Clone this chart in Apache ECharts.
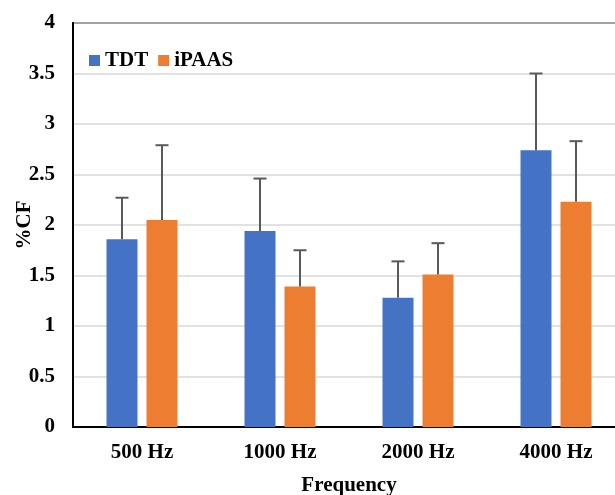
<!DOCTYPE html>
<html>
<head>
<meta charset="utf-8">
<script src="https://cdn.jsdelivr.net/npm/echarts@6/dist/echarts.min.js"></script>
<style>html,body{margin:0;padding:0;background:#fff;}#c{width:615px;height:495px;}</style>
</head>
<body>
<div id="c"></div>
<script>
var categories = ['500 Hz', '1000 Hz', '2000 Hz', '4000 Hz'];
var seriesNames = ['TDT', 'iPAAS'];
var tdtValues = [1.86, 1.94, 1.28, 2.74];
var tdtErrTop = [2.27, 2.46, 1.64, 3.50];
var ipaasValues = [2.05, 1.39, 1.51, 2.23];
var ipaasErrTop = [2.79, 1.75, 1.82, 2.83];
var yTicks = [0, 0.5, 1, 1.5, 2, 2.5, 3, 3.5, 4];

var FONT = '"Liberation Serif", "Times New Roman", serif';
var FS = 21;
var BAR_W = 31, GAP = 9;

function errSeries(values, tops, sign) {
  return {
    type: 'custom',
    z: 5,
    data: values.map(function (v, i) { return [i, v, tops[i]]; }),
    renderItem: function (params, api) {
      var lo = api.coord([api.value(0), api.value(1)]);
      var hi = api.coord([api.value(0), api.value(2)]);
      var x = lo[0] + sign * (BAR_W + GAP) / 2;
      var style = { stroke: '#595959', lineWidth: 2 };
      return {
        type: 'group',
        children: [
          { type: 'line', shape: { x1: x, y1: lo[1], x2: x, y2: hi[1] }, style: style },
          { type: 'line', shape: { x1: x - 6.5, y1: hi[1], x2: x + 6.5, y2: hi[1] }, style: style }
        ]
      };
    }
  };
}

var chart = echarts.init(document.getElementById('c'), null, { renderer: 'canvas' });
chart.setOption({
  animation: false,
  textStyle: { fontFamily: FONT },
  grid: { left: 73, top: 23, width: 552, height: 404, show: true, borderColor: '#000', borderWidth: 2,
          containLabel: false, outerBoundsMode: 'none' },
  legend: {
    left: 84, top: 45,
    itemWidth: 11, itemHeight: 11, itemGap: 10,
    icon: 'rect',
    textStyle: { fontFamily: FONT, fontWeight: 'bold', fontSize: FS, color: '#000' },
    data: seriesNames
  },
  xAxis: {
    type: 'category',
    data: categories,
    name: 'Frequency',
    nameLocation: 'middle',
    nameGap: 48,
    nameMoveOverlap: false,
    nameTextStyle: { fontFamily: FONT, fontWeight: 'bold', fontSize: FS, color: '#000' },
    axisLine: { lineStyle: { color: '#000', width: 2 } },
    axisTick: { show: false },
    axisLabel: { margin: 15, fontFamily: FONT, fontWeight: 'bold', fontSize: FS, color: '#000' }
  },
  yAxis: {
    type: 'value',
    min: 0, max: 4, interval: 0.5,
    name: '%CF',
    nameLocation: 'middle',
    nameGap: 38,
    nameMoveOverlap: false,
    nameTextStyle: { fontFamily: FONT, fontWeight: 'bold', fontSize: FS, color: '#000' },
    axisLine: { show: true, lineStyle: { color: '#000', width: 2 } },
    axisTick: { show: false },
    splitLine: { lineStyle: { color: '#d9d9d9', width: 1.5 } },
    axisLabel: {
      margin: 18, fontFamily: FONT, fontWeight: 'bold', fontSize: FS, color: '#000',
      formatter: function (v) { return yTicks.indexOf(v) >= 0 ? String(v) : ''; }
    }
  },
  series: [
    { name: seriesNames[0], type: 'bar', data: tdtValues, barWidth: BAR_W, barGap: (GAP / BAR_W * 100).toFixed(1) + '%', itemStyle: { color: '#4472C4' } },
    { name: seriesNames[1], type: 'bar', data: ipaasValues, barWidth: BAR_W, itemStyle: { color: '#ED7D31' } },
    errSeries(tdtValues, tdtErrTop, -1),
    errSeries(ipaasValues, ipaasErrTop, 1)
  ]
});
</script>
</body>
</html>
